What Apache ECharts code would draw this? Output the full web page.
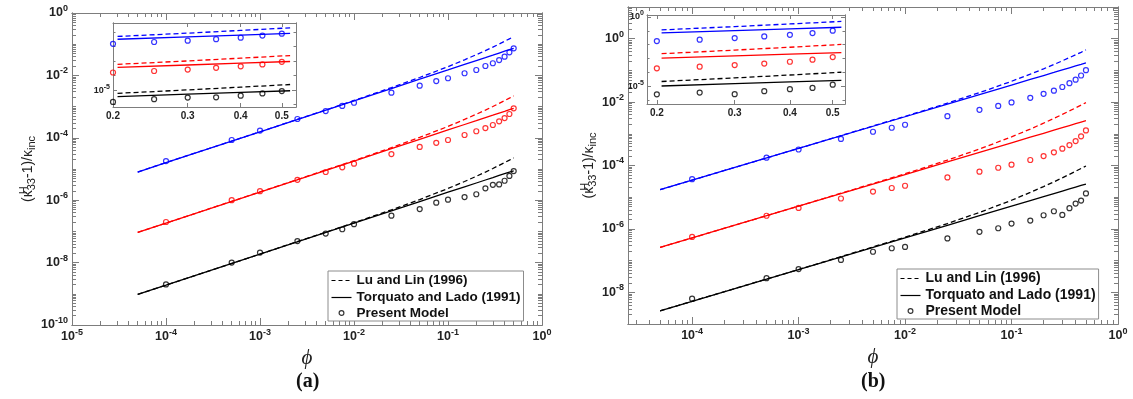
<!DOCTYPE html>
<html><head><meta charset="utf-8">
<script src="https://cdn.jsdelivr.net/npm/echarts@6/dist/echarts.min.js"></script>
<style>html,body{margin:0;padding:0;background:#fff}#c{width:1133px;height:399px}</style>
</head><body><div id="c"></div>
<script>
// ---------------- DATA ----------------
const phiPts  = [1e-4, 5e-4, 1e-3, 2.5e-3, 5e-3, 7.5e-3, 1e-2, 2.5e-2, 5e-2, 7.5e-2, 0.1, 0.15, 0.2, 0.25, 0.3, 0.35, 0.4, 0.45, 0.5];
const phiLine = [5e-5, 1e-4, 1e-3, 1e-2, 2.5e-2, 5e-2, 0.1, 0.15, 0.2, 0.25, 0.3, 0.35, 0.4, 0.45, 0.5];
const insetPhiLine = [0.205, 0.3, 0.4, 0.523];

// panel (a)
const aBluePts  = [1.8e-5, 8.5e-5, 1.7e-4, 4.0e-4, 7.2e-4, 1.05e-3, 1.33e-3, 2.8e-3, 4.7e-3, 6.6e-3, 8.1e-3, 1.17e-2, 1.49e-2, 2.0e-2, 2.45e-2, 3.1e-2, 3.97e-2, 5.5e-2, 7.4e-2];
const aRedPts   = [2.0e-7, 1.0e-6, 1.95e-6, 4.5e-6, 8.0e-6, 1.13e-5, 1.48e-5, 3.0e-5, 5.1e-5, 6.9e-5, 8.5e-5, 1.23e-4, 1.62e-4, 2.05e-4, 2.57e-4, 3.38e-4, 4.3e-4, 5.8e-4, 8.8e-4];
const aBlackPts = [2.0e-9, 1.0e-8, 2.1e-8, 4.9e-8, 8.5e-8, 1.17e-7, 1.7e-7, 3.2e-7, 5.2e-7, 8.3e-7, 1.04e-6, 1.26e-6, 1.55e-6, 2.4e-6, 3.1e-6, 3.2e-6, 4.2e-6, 6.0e-6, 8.6e-6];
const aBlueTL   = [8.0e-6, 1.6e-5, 1.55e-4, 1.52e-3, 3.8e-3, 7.55e-3, 1.5e-2, 2.25e-2, 3.0e-2, 3.72e-2, 4.45e-2, 5.2e-2, 5.95e-2, 6.7e-2, 7.4e-2];
const aBlueLL   = [8.0e-6, 1.6e-5, 1.554e-4, 1.561e-3, 4.06e-3, 8.57e-3, 1.905e-2, 3.16e-2, 4.62e-2, 6.23e-2, 8.05e-2, 0.1011, 0.1238, 0.1484, 0.1739];
const aRedTL    = [9.3e-8, 1.85e-7, 1.83e-6, 1.8e-5, 4.5e-5, 8.95e-5, 1.78e-4, 2.67e-4, 3.55e-4, 4.43e-4, 5.3e-4, 6.2e-4, 7.05e-4, 7.95e-4, 8.8e-4];
const aRedLL    = [9.3e-8, 1.85e-7, 1.835e-6, 1.854e-5, 4.84e-5, 1.029e-4, 2.314e-4, 3.87e-4, 5.68e-4, 7.75e-4, 1.007e-3, 1.271e-3, 1.551e-3, 1.868e-3, 2.2e-3];
const aBlackTL  = [9.6e-10, 1.9e-9, 1.87e-8, 1.83e-7, 4.55e-7, 9.05e-7, 1.8e-6, 2.68e-6, 3.56e-6, 4.44e-6, 5.3e-6, 6.2e-6, 7.05e-6, 7.9e-6, 8.7e-6];
const aBlackLL  = [9.6e-10, 1.9e-9, 1.876e-8, 1.889e-7, 4.91e-7, 1.05e-6, 2.376e-6, 3.97e-6, 5.84e-6, 7.99e-6, 1.039e-5, 1.314e-5, 1.607e-5, 1.928e-5, 2.262e-5];
// inset (a) lines
const aInBlueTL  = [3.07e-2, 4.45e-2, 5.95e-2, 7.74e-2];
const aInBlueLL  = [4.77e-2, 8.05e-2, 0.1238, 0.1867];
const aInRedTL   = [3.63e-4, 5.3e-4, 7.05e-4, 9.2e-4];
const aInRedLL   = [5.86e-4, 1.007e-3, 1.551e-3, 2.36e-3];
const aInBlackTL = [3.65e-6, 5.3e-6, 7.05e-6, 9.1e-6];
const aInBlackLL = [6.04e-6, 1.039e-5, 1.607e-5, 2.43e-5];

// panel (b)
const bBluePts  = [3.7e-5, 1.77e-4, 3.2e-4, 6.9e-4, 1.16e-3, 1.55e-3, 1.93e-3, 3.6e-3, 5.7e-3, 7.6e-3, 9.8e-3, 1.36e-2, 1.82e-2, 2.3e-2, 3.0e-2, 3.96e-2, 5.1e-2, 6.9e-2, 0.102];
const bRedPts   = [5.6e-7, 2.6e-6, 4.6e-6, 9.1e-6, 1.5e-5, 1.95e-5, 2.3e-5, 4.2e-5, 6.4e-5, 8.5e-5, 1.06e-4, 1.49e-4, 1.99e-4, 2.6e-4, 3.4e-4, 4.4e-4, 5.9e-4, 8.3e-4, 1.28e-3];
const bBlackPts = [6.3e-9, 2.8e-8, 5.4e-8, 1.05e-7, 1.9e-7, 2.45e-7, 2.7e-7, 5.0e-7, 8.1e-7, 1.05e-6, 1.47e-6, 1.83e-6, 2.7e-6, 3.6e-6, 2.75e-6, 4.5e-6, 6.3e-6, 7.8e-6, 1.32e-5];
const bBlueTL   = [1.72e-5, 3.45e-5, 3.45e-4, 3.45e-3, 8.6e-3, 1.72e-2, 3.45e-2, 5.2e-2, 6.9e-2, 8.6e-2, 0.1035, 0.121, 0.138, 0.155, 0.173];
const bBlueLL   = [1.72e-5, 3.45e-5, 3.46e-4, 3.557e-3, 9.27e-3, 1.988e-2, 4.526e-2, 7.63e-2, 0.1121, 0.1531, 0.2004, 0.2531, 0.3102, 0.3726, 0.4429];
const bRedTL    = [2.6e-7, 5.2e-7, 5.2e-6, 5.2e-5, 1.3e-4, 2.6e-4, 5.2e-4, 7.8e-4, 1.04e-3, 1.3e-3, 1.56e-3, 1.82e-3, 2.08e-3, 2.34e-3, 2.6e-3];
const bRedLL    = [2.6e-7, 5.2e-7, 5.23e-6, 5.48e-5, 1.476e-4, 3.30e-4, 8.01e-4, 1.412e-3, 2.163e-3, 3.055e-3, 4.087e-3, 5.26e-3, 6.573e-3, 8.026e-3, 9.62e-3];
const bBlackTL  = [2.6e-9, 5.2e-9, 5.2e-8, 5.2e-7, 1.3e-6, 2.6e-6, 5.2e-6, 7.8e-6, 1.04e-5, 1.3e-5, 1.56e-5, 1.82e-5, 2.08e-5, 2.34e-5, 2.6e-5];
const bBlackLL  = [2.6e-9, 5.2e-9, 5.23e-8, 5.48e-7, 1.476e-6, 3.30e-6, 8.01e-6, 1.412e-5, 2.163e-5, 3.055e-5, 4.087e-5, 5.26e-5, 6.573e-5, 8.026e-5, 9.62e-5];
// inset (b) lines
const bInBlueTL  = [7.07e-2, 0.1035, 0.138, 0.1804];
const bInBlueLL  = [0.116, 0.2004, 0.3102, 0.4748];
const bInRedTL   = [1.066e-3, 1.56e-3, 2.08e-3, 2.72e-3];
const bInRedLL   = [2.246e-3, 4.087e-3, 6.573e-3, 1.04e-2];
const bInBlackTL = [1.066e-5, 1.56e-5, 2.08e-5, 2.72e-5];
const bInBlackLL = [2.246e-5, 4.087e-5, 6.573e-5, 1.04e-4];

// tick labels (exponents of 10) and inset tick labels
const aXLabelExp = [-5, -4, -3, -2, -1, 0];
const aYLabelExp = [0, -2, -4, -6, -8, -10];
const bXLabelExp = [-4, -3, -2, -1, 0];
const bYLabelExp = [0, -2, -4, -6, -8];
const insetXLabels = [0.2, 0.3, 0.4, 0.5];
const aInYLabelExp = [-5];
const bInYLabelExp = [0, -5];

const legendNames = ['Lu and Lin (1996)', 'Torquato and Lado (1991)', 'Present Model'];

// ---------------- HELPERS ----------------
const AXC = '#7d7d7d', TXT = '#222222';
const FONT = '"Liberation Sans", Arial, Helvetica, sans-serif';
const BLUE = '#0000ff', RED = '#ff0000', BLACK = '#000000';
const pw = e => Number('1e' + e);
const pairs = (xs, ys) => xs.map((x, i) => [x, ys[i]]);
function logGrid(eLo, eHi) { const out = []; for (let e = eLo; e <= eHi; e++) for (let m = 1; m <= 9; m++) out.push(Number(m + 'e' + e)); return out; }
function minorOf(eLo, eHi, majors) { return logGrid(eLo, eHi).filter(v => !majors.some(M => Math.abs(M - v) / v < 1e-9)); }

const richMain = {
  b: { fontSize: 12.5, fontWeight: 'bold', fontFamily: FONT, color: TXT },
  s: { fontSize: 9, fontWeight: 'bold', fontFamily: FONT, color: TXT, padding: [0, 0, 9, 0] }
};
const richInset = {
  b: { fontSize: 9, fontWeight: 'bold', fontFamily: FONT, color: TXT },
  s: { fontSize: 7, fontWeight: 'bold', fontFamily: FONT, color: TXT, padding: [0, 0, 7, 0] }
};
const expFmt = v => '{b|10}{s|' + Math.round(Math.log10(v)) + '}';

function axis(o) {
  const a = {
    type: 'log', logBase: 10, gridIndex: o.grid, position: o.pos, min: o.min, max: o.max,
    axisLine: { show: true, onZero: false, lineStyle: { color: AXC, width: 1 } },
    axisTick: { show: true, inside: true, length: o.len, customValues: o.ticks, lineStyle: { color: AXC, width: 1 } },
    axisLabel: { show: false },
    splitLine: { show: false }, minorTick: { show: false }, minorSplitLine: { show: false },
    axisPointer: { show: false }, silent: true, z: o.z || 5
  };
  if (o.labels) {
    a.axisLabel = { show: true, customValues: o.labels, formatter: o.fmt, margin: o.margin, rich: o.rich,
      fontFamily: FONT, fontWeight: 'bold', fontSize: o.fs || 12, color: TXT, hideOverlap: false, showMinLabel: true, showMaxLabel: true };
  }
  if (o.name) Object.assign(a, o.name);
  return a;
}

// ranges
const A = { x: [1e-5, 1], y: [1e-10, 1] };
const B = { x: [2.5e-5, 1], y: [1e-9, 10] };
const IA = { x: [0.2, 0.54], y: [7e-7, 0.4] };
const IB = { x: [0.19, 0.533], y: [5.4e-7, 1.37] };

const aXMaj = aXLabelExp.map(pw), aYMaj = aYLabelExp.map(pw);
const bXMaj = bXLabelExp.map(pw), bYMaj = bYLabelExp.map(pw);
const aXMin = minorOf(-5, -1, aXMaj), aYMin = minorOf(-10, -1, aYMaj);
const bXMin = minorOf(-5, -1, bXMaj), bYMin = minorOf(-9, 0, bYMaj);
const aInYMaj = aInYLabelExp.map(pw), bInYMaj = bInYLabelExp.map(pw);
const aInYMin = [1e-6, 1e-4, 1e-3, 1e-2, 1e-1];
const bInYMin = [1e-6, 1e-4, 1e-3, 1e-2, 1e-1];

const phiName = { name: 'ϕ', nameLocation: 'middle', nameGap: 23,
  nameTextStyle: { fontFamily: '"Liberation Serif", "DejaVu Serif", serif', fontStyle: 'italic', fontSize: 21, color: TXT } };
const yTitleRich = {
  p: { fontFamily: FONT, fontSize: 14, color: TXT },
  h: { fontFamily: FONT, fontSize: 11, color: TXT, width: 0.1, padding: [0, 0, 9, 0] },
  s: { fontFamily: FONT, fontSize: 11, color: TXT, padding: [7, 0, 0, 0] }
};
const yName = gap => ({ name: '{p|(κ}{h|H}{s|33}{p|-1)/κ}{s|inc}', nameLocation: 'middle', nameGap: gap, nameRotate: 90,
  nameTextStyle: { rich: yTitleRich, fontFamily: FONT, fontSize: 14, color: TXT } });

const xAxes = [
  axis({ grid: 0, pos: 'bottom', min: A.x[0], max: A.x[1], ticks: aXMaj, len: 7, labels: aXMaj, fmt: expFmt, rich: richMain, margin: 3, name: phiName }),
  axis({ grid: 1, pos: 'bottom', min: B.x[0], max: B.x[1], ticks: bXMaj, len: 7, labels: bXMaj, fmt: expFmt, rich: richMain, margin: 3, name: phiName }),
  axis({ grid: 2, pos: 'bottom', min: IA.x[0], max: IA.x[1], ticks: insetXLabels, len: 4, labels: insetXLabels, fmt: v => v.toFixed(1), margin: 4, fs: 10, z: 8 }),
  axis({ grid: 3, pos: 'bottom', min: IB.x[0], max: IB.x[1], ticks: insetXLabels, len: 4, labels: insetXLabels, fmt: v => v.toFixed(1), margin: 4, fs: 10, z: 8 }),
  axis({ grid: 0, pos: 'bottom', min: A.x[0], max: A.x[1], ticks: aXMin, len: 4 }),
  axis({ grid: 0, pos: 'top', min: A.x[0], max: A.x[1], ticks: aXMaj, len: 7 }),
  axis({ grid: 0, pos: 'top', min: A.x[0], max: A.x[1], ticks: aXMin, len: 4 }),
  axis({ grid: 1, pos: 'bottom', min: B.x[0], max: B.x[1], ticks: bXMin, len: 4 }),
  axis({ grid: 1, pos: 'top', min: B.x[0], max: B.x[1], ticks: bXMaj, len: 7 }),
  axis({ grid: 1, pos: 'top', min: B.x[0], max: B.x[1], ticks: bXMin, len: 4 }),
  axis({ grid: 2, pos: 'top', min: IA.x[0], max: IA.x[1], ticks: insetXLabels, len: 4, z: 8 }),
  axis({ grid: 3, pos: 'top', min: IB.x[0], max: IB.x[1], ticks: insetXLabels, len: 4, z: 8 })
];
const yAxes = [
  axis({ grid: 0, pos: 'left', min: A.y[0], max: A.y[1], ticks: aYMaj, len: 7, labels: aYMaj, fmt: expFmt, rich: richMain, margin: 4, name: yName(24) }),
  axis({ grid: 1, pos: 'left', min: B.y[0], max: B.y[1], ticks: bYMaj, len: 7, labels: bYMaj, fmt: expFmt, rich: richMain, margin: 4, name: yName(24) }),
  axis({ grid: 2, pos: 'left', min: IA.y[0], max: IA.y[1], ticks: aInYMaj, len: 4, labels: aInYMaj, fmt: expFmt, rich: richInset, margin: 3, z: 8 }),
  axis({ grid: 3, pos: 'left', min: IB.y[0], max: IB.y[1], ticks: bInYMaj, len: 4, labels: bInYMaj, fmt: expFmt, rich: richInset, margin: 3, z: 8 }),
  axis({ grid: 0, pos: 'left', min: A.y[0], max: A.y[1], ticks: aYMin, len: 4 }),
  axis({ grid: 0, pos: 'right', min: A.y[0], max: A.y[1], ticks: aYMaj, len: 7 }),
  axis({ grid: 0, pos: 'right', min: A.y[0], max: A.y[1], ticks: aYMin, len: 4 }),
  axis({ grid: 1, pos: 'left', min: B.y[0], max: B.y[1], ticks: bYMin, len: 4 }),
  axis({ grid: 1, pos: 'right', min: B.y[0], max: B.y[1], ticks: bYMaj, len: 7 }),
  axis({ grid: 1, pos: 'right', min: B.y[0], max: B.y[1], ticks: bYMin, len: 4 }),
  axis({ grid: 2, pos: 'left', min: IA.y[0], max: IA.y[1], ticks: aInYMin, len: 2.5, z: 8 }),
  axis({ grid: 2, pos: 'right', min: IA.y[0], max: IA.y[1], ticks: aInYMaj, len: 4, z: 8 }),
  axis({ grid: 2, pos: 'right', min: IA.y[0], max: IA.y[1], ticks: aInYMin, len: 2.5, z: 8 }),
  axis({ grid: 3, pos: 'left', min: IB.y[0], max: IB.y[1], ticks: bInYMin, len: 2.5, z: 8 }),
  axis({ grid: 3, pos: 'right', min: IB.y[0], max: IB.y[1], ticks: bInYMaj, len: 4, z: 8 }),
  axis({ grid: 3, pos: 'right', min: IB.y[0], max: IB.y[1], ticks: bInYMin, len: 2.5, z: 8 })
];

function lineS(idx, xs, ys, color, dashed, z) {
  return { type: 'line', xAxisIndex: idx, yAxisIndex: idx, data: pairs(xs, ys), symbol: 'none', showSymbol: false,
    lineStyle: { color, width: 1.3, type: dashed ? [5, 3] : 'solid' }, itemStyle: { color }, silent: true, z: z || 3, clip: true };
}
function ptsS(idx, xs, ys, color, z) {
  return { type: 'scatter', xAxisIndex: idx, yAxisIndex: idx, data: pairs(xs, ys), symbol: 'circle', symbolSize: 5,
    itemStyle: { color: 'rgba(0,0,0,0)', borderColor: color, borderWidth: 1.2 }, silent: true, z: z || 4 };
}
const inPhi = phiPts.filter(p => p >= 0.2);
const tail = arr => arr.slice(phiPts.length - inPhi.length);

const series = [
  // panel a
  lineS(0, phiLine, aBlueLL, BLUE, true), lineS(0, phiLine, aBlueTL, BLUE, false), ptsS(0, phiPts, aBluePts, BLUE),
  lineS(0, phiLine, aRedLL, RED, true), lineS(0, phiLine, aRedTL, RED, false), ptsS(0, phiPts, aRedPts, RED),
  lineS(0, phiLine, aBlackLL, BLACK, true), lineS(0, phiLine, aBlackTL, BLACK, false), ptsS(0, phiPts, aBlackPts, BLACK),
  // panel b
  lineS(1, phiLine, bBlueLL, BLUE, true), lineS(1, phiLine, bBlueTL, BLUE, false), ptsS(1, phiPts, bBluePts, BLUE),
  lineS(1, phiLine, bRedLL, RED, true), lineS(1, phiLine, bRedTL, RED, false), ptsS(1, phiPts, bRedPts, RED),
  lineS(1, phiLine, bBlackLL, BLACK, true), lineS(1, phiLine, bBlackTL, BLACK, false), ptsS(1, phiPts, bBlackPts, BLACK),
  // inset a
  lineS(2, insetPhiLine, aInBlueLL, BLUE, true, 9), lineS(2, insetPhiLine, aInBlueTL, BLUE, false, 9), ptsS(2, inPhi, tail(aBluePts), BLUE, 10),
  lineS(2, insetPhiLine, aInRedLL, RED, true, 9), lineS(2, insetPhiLine, aInRedTL, RED, false, 9), ptsS(2, inPhi, tail(aRedPts), RED, 10),
  lineS(2, insetPhiLine, aInBlackLL, BLACK, true, 9), lineS(2, insetPhiLine, aInBlackTL, BLACK, false, 9), ptsS(2, inPhi, tail(aBlackPts), BLACK, 10),
  // inset b
  lineS(3, insetPhiLine, bInBlueLL, BLUE, true, 9), lineS(3, insetPhiLine, bInBlueTL, BLUE, false, 9), ptsS(3, inPhi, tail(bBluePts), BLUE, 10),
  lineS(3, insetPhiLine, bInRedLL, RED, true, 9), lineS(3, insetPhiLine, bInRedTL, RED, false, 9), ptsS(3, inPhi, tail(bRedPts), RED, 10),
  lineS(3, insetPhiLine, bInBlackLL, BLACK, true, 9), lineS(3, insetPhiLine, bInBlackTL, BLACK, false, 9), ptsS(3, inPhi, tail(bBlackPts), BLACK, 10),
  // legend entries (black)
  { type: 'line', name: legendNames[0], xAxisIndex: 0, yAxisIndex: 0, data: [], symbol: 'none', lineStyle: { color: BLACK, width: 1.2, type: [4, 3] }, itemStyle: { color: BLACK } },
  { type: 'line', name: legendNames[1], xAxisIndex: 0, yAxisIndex: 0, data: [], symbol: 'none', lineStyle: { color: BLACK, width: 1.2 }, itemStyle: { color: BLACK } },
  { type: 'scatter', name: legendNames[2], xAxisIndex: 0, yAxisIndex: 0, data: [], symbol: 'circle', itemStyle: { color: 'rgba(0,0,0,0)', borderColor: BLACK, borderWidth: 1.2 } }
];

const circleIcon = 'path://M0,0M20,20M10,6A4,4,0,1,1,10,14A4,4,0,1,1,10,6Z';
const lineIcon = 'path://M0,0M20,12M0,6L20,6';
function legend(left, top, fs) {
  return {
    left, top, orient: 'vertical', selectedMode: false, itemGap: 0, itemWidth: 20, itemHeight: 12,
    padding: [1, 3, 1, 1], borderColor: '#8c8c8c', borderWidth: 1, backgroundColor: '#fff',
    textStyle: { fontFamily: FONT, fontWeight: 'bold', fontSize: fs, color: '#111', lineHeight: 14 },
    data: [
      { name: legendNames[0], icon: lineIcon, itemStyle: { color: 'none', borderColor: '#000', borderWidth: 1.2, borderType: [4, 3] } },
      { name: legendNames[1], icon: lineIcon, itemStyle: { color: 'none', borderColor: '#000', borderWidth: 1.2, borderType: 'solid' } },
      { name: legendNames[2], icon: circleIcon, itemStyle: { color: 'rgba(0,0,0,0)', borderColor: '#000', borderWidth: 1.2 } }
    ], z: 20
  };
}

const option = {
  animation: false,
  backgroundColor: '#ffffff',
  grid: [
    { left: 72, top: 13, width: 470, height: 312, containLabel: false, outerBoundsMode: 'none' },
    { left: 628, top: 7, width: 490, height: 317, containLabel: false, outerBoundsMode: 'none' },
    { left: 113, top: 23, width: 183, height: 84, show: true, backgroundColor: '#fff', borderWidth: 0, containLabel: false, outerBoundsMode: 'none', z: 6 },
    { left: 647, top: 15, width: 198, height: 89, show: true, backgroundColor: '#fff', borderWidth: 0, containLabel: false, outerBoundsMode: 'none', z: 6 }
  ],
  xAxis: xAxes,
  yAxis: yAxes,
  legend: [legend(328, 271, 13.5), legend(897, 269, 14)],
  title: [
    { text: '(a)', left: 291, top: 367, textStyle: { fontFamily: '"Liberation Serif", serif', fontWeight: 'bold', fontSize: 20, color: '#111' } },
    { text: '(b)', left: 856, top: 367, textStyle: { fontFamily: '"Liberation Serif", serif', fontWeight: 'bold', fontSize: 20, color: '#111' } }
  ],
  tooltip: { show: false },
  series
};
const chart = echarts.init(document.getElementById('c'), null, { renderer: 'canvas' });
chart.setOption(option);
</script></body></html>
